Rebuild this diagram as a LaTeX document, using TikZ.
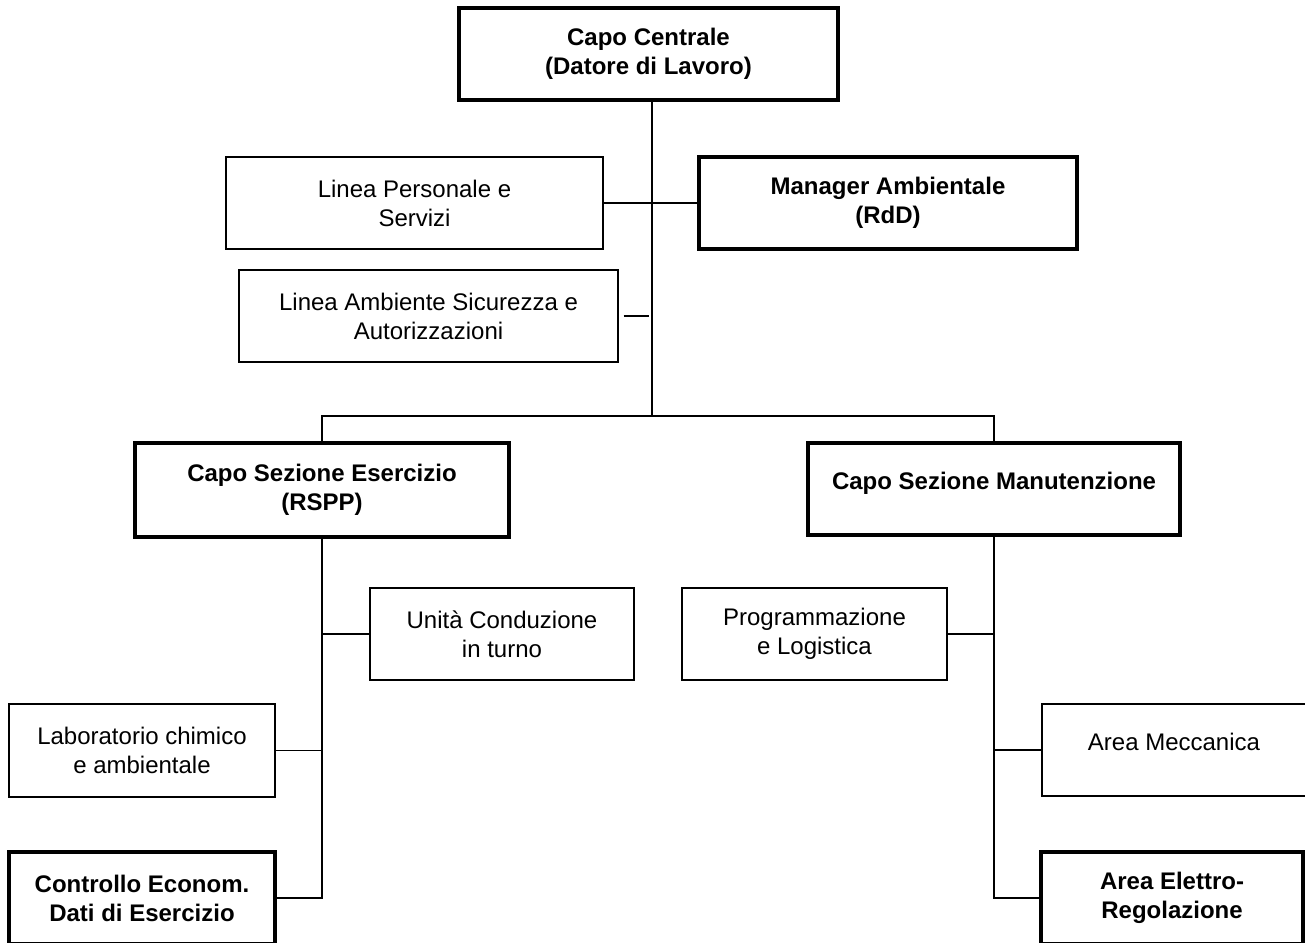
\documentclass[tikz,border=0pt]{standalone}
\usepackage{fontspec}
\setmainfont{Liberation Sans}
\usepackage{tikz}
\usetikzlibrary{positioning}
\tikzset{
  unit/.style={draw=black, line width=1.4pt, align=center, inner sep=0pt,
    font=\fontsize{24}{29}\selectfont},
  head/.style={unit, line width=3.4pt, font=\fontsize{24}{29}\selectfont\bfseries},
  solo/.style={text height=0pt, text depth=0pt},
  link/.style={draw=black, line width=1.3pt},
}

\begin{document}
\begin{tikzpicture}[x=1pt, y=-1pt]
\useasboundingbox (0,0) rectangle (1305,942);
\clip (0,0) rectangle (1305,942);
% top level
\node[head, minimum width=379, minimum height=92] (capo) at (648.5,54) {Capo Centrale\\(Datore di Lavoro)};
\node[unit, minimum width=377, minimum height=92] (pers) at (414.5,203) {Linea Personale e\\Servizi};
\node[head, minimum width=378, minimum height=92] (mgr) at (888,203) {Manager Ambientale\\(RdD)};
\node[unit, minimum width=379, minimum height=92] (amb) at (428.5,316) {Linea Ambiente Sicurezza e\\Autorizzazioni};
\coordinate (spine) at (652,416);
% sections
\node[head, minimum width=374, minimum height=94] (esc) at (322,490) {Capo Sezione Esercizio\\(RSPP)};
\node[head, solo, minimum width=372, minimum height=92] (man) at (994,489) {Capo Sezione Manutenzione};
\node[unit, minimum width=264, minimum height=92] (unita) at (502,634) {Unità Conduzione\\in turno};
\node[unit, minimum width=266, minimum height=93] (lab) at (142,750.5) {Laboratorio chimico\\e ambientale};
\node[head, minimum width=266, minimum height=92] (ctrl) at (142,898) {Controllo Econom.\\Dati di Esercizio};
\node[unit, minimum width=265, minimum height=92] (prog) at (814.5,634) {Programmazione\\e Logistica};
\node[unit, solo, minimum width=264, minimum height=92] (mecc) at (1174,750) {Area Meccanica};
\node[head, minimum width=262, minimum height=92] (elet) at (1172,898) {Area Elettro-\\Regolazione};

\draw[link] (capo.south -| spine) -- (spine);
\draw[link] (pers.east) -- (mgr.west);
\draw[link] (amb.east) ++(5,0) -- ++(25,0);
\draw[link] (esc.north) |- (spine) -| (man.north);
\draw[link] (esc.south) |- (ctrl.east);
\draw[link] (unita.west) -- (unita.west -| esc.south);
\draw[link] (lab.east) -- (lab.east -| esc.south);
\draw[link] (man.south) |- (elet.west);
\draw[link] (prog.east) -- (prog.east -| man.south);
\draw[link] (mecc.west) -- (mecc.west -| man.south);
\end{tikzpicture}
\end{document}
